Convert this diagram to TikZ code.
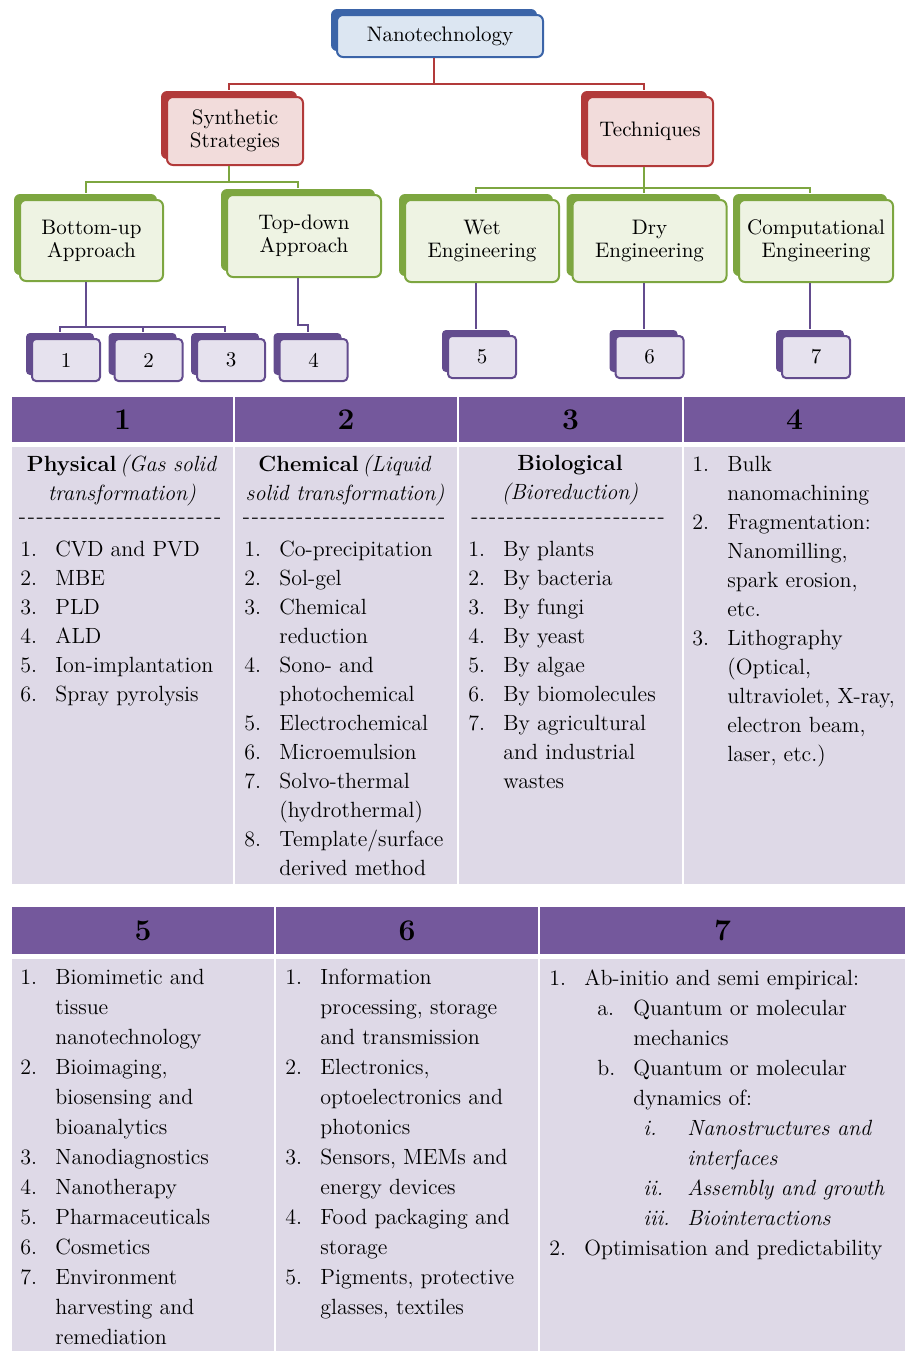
\documentclass[tikz,border=0pt]{standalone}
\usetikzlibrary{shadows}
\definecolor{blueD}{HTML}{3B64A8}
\definecolor{blueL}{HTML}{DCE6F2}
\definecolor{redD}{HTML}{B23A3A}
\definecolor{redL}{HTML}{F2DCDB}
\definecolor{greenD}{HTML}{7DA640}
\definecolor{greenL}{HTML}{EEF3E3}
\definecolor{purpD}{HTML}{634C8E}
\definecolor{purpL}{HTML}{E6E2EE}
\definecolor{headC}{HTML}{74589C}
\definecolor{bodyC}{HTML}{DED9E7}
\newcommand\itm[2]{\makebox[17.5pt][l]{#1}#2}
\newcommand\cnt[1]{\hspace*{17.5pt}#1}
\newcommand\dashrow[1]{\foreach \k in {1,...,#1}{-\kern0.85pt}}
\tikzset{
  box/.style={rounded corners=3pt, line width=1pt, align=center, inner sep=0pt,
    font=\fontsize{10.5}{11.5}\selectfont},
  rootbox/.style={box, draw=blueD, fill=blueL, minimum width=103pt, minimum height=21pt,
    general shadow={shadow xshift=-3pt, shadow yshift=3pt, fill=blueD}},
  redbox/.style={box, draw=redD, fill=redL,
    general shadow={shadow xshift=-3pt, shadow yshift=3pt, fill=redD}},
  greenbox/.style={box, draw=greenD, fill=greenL, minimum width=77pt, minimum height=41pt,
    general shadow={shadow xshift=-3pt, shadow yshift=3pt, fill=greenD}},
  numbox/.style={box, rounded corners=2pt, draw=purpD, fill=purpL, minimum width=34pt, minimum height=21pt,
    general shadow={shadow xshift=-3pt, shadow yshift=3pt, fill=purpD}},
  redline/.style={draw=redD, line width=1pt},
  greenline/.style={draw=greenD, line width=1pt},
  purpline/.style={draw=purpD, line width=1pt},
  headcell/.style={fill=headC, draw=white, line width=1pt, inner sep=0pt, minimum height=23.5pt,
    font=\fontsize{15}{17}\selectfont\bfseries},
  bodycell/.style={fill=bodyC, draw=white, line width=1pt, inner sep=0pt},
  celltitle/.style={anchor=north, inner sep=0pt, align=center, font=\fontsize{11}{14.5}\selectfont},
  celltext/.style={anchor=north west, inner sep=0pt, align=left, font=\fontsize{11}{14.5}\selectfont},
  celltextb/.style={celltext, font=\fontsize{11}{15}\selectfont},
  dashes/.style={inner sep=0pt, font=\fontsize{11}{14.5}\selectfont}
}
\begin{document}
\begin{tikzpicture}[x=0.5pt, y=-0.5pt]
  \useasboundingbox (0,0) rectangle (907,1351);
  \node[rootbox] (nano) at (440,36) {Nanotechnology};
  \node[redbox, minimum width=68pt, minimum height=34pt] (syn) at (235,131) {Synthetic\\Strategies};
  \node[redbox, minimum width=63pt, minimum height=34.5pt] (tech) at (650,131.5) {Techniques};
  \node[greenbox, minimum width=71.5pt, minimum height=40.5pt] (bu) at (91.5,240.5) {Bottom-up\\Approach};
  \node[greenbox] (td) at (304,236) {Top-down\\Approach};
  \node[greenbox] (wet) at (482,241) {Wet\\Engineering};
  \node[greenbox] (dry) at (649.5,241) {Dry\\Engineering};
  \node[greenbox] (comp) at (816,241) {Computational\\Engineering};
  \node[numbox] (n1) at (66,360) {1};
  \node[numbox] (n2) at (148.5,360) {2};
  \node[numbox] (n3) at (231,360) {3};
  \node[numbox] (n4) at (313.5,360) {4};
  \node[numbox] (n5) at (482,357) {5};
  \node[numbox] (n6) at (649.5,357) {6};
  \node[numbox] (n7) at (816,357) {7};
  % tree connectors
  \draw[redline] ([xshift=-3pt]nano.south) -- ++(0,26) -| ([xshift=-3pt,yshift=3pt]syn.north);
  \draw[redline] ([xshift=-3pt]nano.south) -- ++(0,26) -| ([xshift=-3pt,yshift=3pt]tech.north);
  \draw[greenline] ([xshift=-3pt]syn.south) -- ++(0,16) -| ([xshift=-3pt,yshift=3pt]bu.north);
  \draw[greenline] ([xshift=-3pt]syn.south) -- ++(0,16) -| ([xshift=-3pt,yshift=3pt]td.north);
  \draw[greenline] ([xshift=-3pt]tech.south) -- ++(0,21) -| ([xshift=-3pt,yshift=3pt]wet.north);
  \draw[greenline] ([xshift=-3pt]tech.south) -- ++(0,21) -| ([xshift=-3pt,yshift=3pt]dry.north);
  \draw[greenline] ([xshift=-3pt]tech.south) -- ++(0,21) -| ([xshift=-3pt,yshift=3pt]comp.north);
  \draw[purpline] ([xshift=-3pt]bu.south) -- ++(0,45) -| ([xshift=-3pt,yshift=3pt]n1.north);
  \draw[purpline] ([xshift=-3pt]bu.south) -- ++(0,45) -| ([xshift=-3pt,yshift=3pt]n2.north);
  \draw[purpline] ([xshift=-3pt]bu.south) -- ++(0,45) -| ([xshift=-3pt,yshift=3pt]n3.north);
  \draw[purpline] ([xshift=-3pt]td.south) -- ++(0,47) -| ([xshift=-3pt,yshift=3pt]n4.north);
  \draw[purpline] ([xshift=-3pt]wet.south) -- ([xshift=-3pt,yshift=3pt]n5.north);
  \draw[purpline] ([xshift=-3pt]dry.south) -- ([xshift=-3pt,yshift=3pt]n6.north);
  \draw[purpline] ([xshift=-3pt]comp.south) -- ([xshift=-3pt,yshift=3pt]n7.north);
  % table 1
  \node[headcell, minimum width=111.5pt] (h1) at (122.5,419.5) {1};
  \node[headcell, minimum width=112pt] (h2) at (346,419.5) {2};
  \node[headcell, minimum width=112.5pt] (h3) at (570.5,419.5) {3};
  \node[headcell, minimum width=111.5pt] (h4) at (794.5,419.5) {4};
  \node[bodycell, minimum width=111.5pt, minimum height=219.5pt] (b1) at (122.5,665.5) {};
  \node[bodycell, minimum width=112pt, minimum height=219.5pt] (b2) at (346,665.5) {};
  \node[bodycell, minimum width=112.5pt, minimum height=219.5pt] (b3) at (570.5,665.5) {};
  \node[bodycell, minimum width=111.5pt, minimum height=219.5pt] (b4) at (794.5,665.5) {};
  \node[celltitle] (t1) at (122,455) {\textbf{Physical}\,\textit{(Gas solid}\\\textit{transformation)}};
  \node[celltitle] (t2) at (345,455) {\textbf{Chemical}\,\textit{(Liquid}\\\textit{solid transformation)}};
  \node[celltitle] (t3) at (570,455) {\textbf{Biological}\\\textit{(Bioreduction)}};
  \node[dashes] (d1) at (121,521) {\dashrow{23}};
  \node[dashes] (d2) at (345,521) {\dashrow{23}};
  \node[dashes] (d3) at (569,521) {\dashrow{22}};
  \node[celltext] (l1) at (20,541) {\itm{1.}{CVD and PVD}\\\itm{2.}{MBE}\\\itm{3.}{PLD}\\
    \itm{4.}{ALD}\\\itm{5.}{Ion-implantation}\\\itm{6.}{Spray pyrolysis}};
  \node[celltext] (l2) at (244,541) {\itm{1.}{Co-precipitation}\\\itm{2.}{Sol-gel}\\
    \itm{3.}{Chemical}\\\cnt{reduction}\\\itm{4.}{Sono- and}\\\cnt{photochemical}\\
    \itm{5.}{Electrochemical}\\\itm{6.}{Microemulsion}\\\itm{7.}{Solvo-thermal}\\
    \cnt{(hydrothermal)}\\\itm{8.}{Template/surface}\\\cnt{derived method}};
  \node[celltext] (l3) at (468,541) {\itm{1.}{By plants}\\\itm{2.}{By bacteria}\\
    \itm{3.}{By fungi}\\\itm{4.}{By yeast}\\\itm{5.}{By algae}\\\itm{6.}{By biomolecules}\\
    \itm{7.}{By agricultural}\\\cnt{and industrial}\\\cnt{wastes}};
  \node[celltext] (l4) at (692,456) {\itm{1.}{Bulk}\\\cnt{nanomachining}\\
    \itm{2.}{Fragmentation:}\\\cnt{Nanomilling,}\\\cnt{spark erosion,}\\\cnt{etc.}\\
    \itm{3.}{Lithography}\\\cnt{(Optical,}\\\cnt{ultraviolet, X-ray,}\\
    \cnt{electron beam,}\\\cnt{laser, etc.)}};
  % table 2
  \node[headcell, minimum width=132pt, minimum height=24.5pt] (h5) at (143,930.5) {5};
  \node[headcell, minimum width=132pt, minimum height=24.5pt] (h6) at (407,930.5) {6};
  \node[headcell, minimum width=183.5pt, minimum height=24.5pt] (h7) at (722.5,930.5) {7};
  \node[bodycell, minimum width=132pt, minimum height=197.5pt] (b5) at (143,1155.5) {};
  \node[bodycell, minimum width=132pt, minimum height=197.5pt] (b6) at (407,1155.5) {};
  \node[bodycell, minimum width=183.5pt, minimum height=197.5pt] (b7) at (722.5,1155.5) {};
  \node[celltextb] (l5) at (20,969) {\itm{1.}{Biomimetic and}\\\cnt{tissue}\\\cnt{nanotechnology}\\
    \itm{2.}{Bioimaging,}\\\cnt{biosensing and}\\\cnt{bioanalytics}\\
    \itm{3.}{Nanodiagnostics}\\\itm{4.}{Nanotherapy}\\\itm{5.}{Pharmaceuticals}\\
    \itm{6.}{Cosmetics}\\\itm{7.}{Environment}\\\cnt{harvesting and}\\\cnt{remediation}};
  \node[celltextb] (l6) at (285,969) {\itm{1.}{Information}\\\cnt{processing, storage}\\
    \cnt{and transmission}\\\itm{2.}{Electronics,}\\\cnt{optoelectronics and}\\
    \cnt{photonics}\\\itm{3.}{Sensors, MEMs and}\\\cnt{energy devices}\\
    \itm{4.}{Food packaging and}\\\cnt{storage}\\\itm{5.}{Pigments, protective}\\
    \cnt{glasses, textiles}};
  \node[celltextb] (l7) at (549,969) {\itm{1.}{Ab-initio and semi empirical:}\\
    \hspace*{24pt}\makebox[18pt][l]{a.}Quantum or molecular\\
    \hspace*{42pt}mechanics\\
    \hspace*{24pt}\makebox[18pt][l]{b.}Quantum or molecular\\
    \hspace*{42pt}dynamics of:\\
    \hspace*{47pt}\makebox[22pt][l]{\textit{i.}}\textit{Nanostructures and}\\
    \hspace*{69pt}\textit{interfaces}\\
    \hspace*{47pt}\makebox[22pt][l]{\textit{ii.}}\textit{Assembly and growth}\\
    \hspace*{47pt}\makebox[22pt][l]{\textit{iii.}}\textit{Biointeractions}\\
    \itm{2.}{Optimisation and predictability}};
\end{tikzpicture}
\end{document}
